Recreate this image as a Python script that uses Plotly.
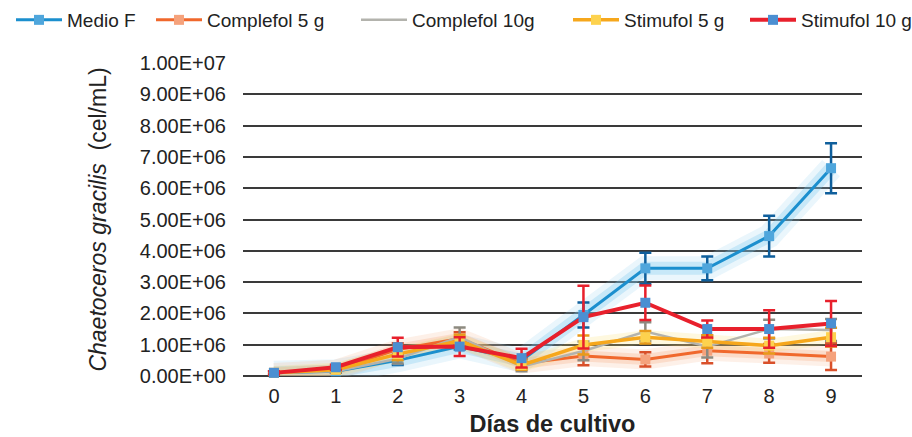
import plotly.graph_objects as go

# Culture days
dias = [0, 1, 2, 3, 4, 5, 6, 7, 8, 9]

# Mean cell density (cel/mL) per treatment
medio_f = [0.10e6, 0.15e6, 0.50e6, 0.95e6, 0.50e6, 1.95e6, 3.44e6, 3.44e6, 4.47e6, 6.64e6]
complefol_5 = [0.10e6, 0.20e6, 0.85e6, 1.20e6, 0.40e6, 0.64e6, 0.53e6, 0.81e6, 0.72e6, 0.62e6]
complefol_10 = [0.10e6, 0.15e6, 0.55e6, 1.25e6, 0.30e6, 0.80e6, 1.42e6, 0.94e6, 1.50e6, 1.47e6]
stimufol_5 = [0.10e6, 0.20e6, 0.70e6, 1.12e6, 0.35e6, 0.99e6, 1.24e6, 1.10e6, 0.97e6, 1.24e6]
stimufol_10 = [0.10e6, 0.28e6, 0.92e6, 0.94e6, 0.57e6, 1.88e6, 2.34e6, 1.50e6, 1.50e6, 1.68e6]

# Standard deviations
err_medio_f = [0.05e6, 0.05e6, 0.15e6, 0.10e6, 0.10e6, 0.40e6, 0.50e6, 0.38e6, 0.65e6, 0.80e6]
err_complefol_5 = [0.05e6, 0.05e6, 0.20e6, 0.20e6, 0.15e6, 0.30e6, 0.23e6, 0.40e6, 0.30e6, 0.43e6]
err_complefol_10 = [0.05e6, 0.05e6, 0.15e6, 0.30e6, 0.15e6, 0.30e6, 0.30e6, 0.35e6, 0.30e6, 0.35e6]
err_stimufol_5 = [0.05e6, 0.05e6, 0.20e6, 0.20e6, 0.15e6, 0.30e6, 0.20e6, 0.20e6, 0.25e6, 0.30e6]
err_stimufol_10 = [0.05e6, 0.08e6, 0.30e6, 0.30e6, 0.30e6, 1.00e6, 0.55e6, 0.27e6, 0.60e6, 0.72e6]

y_tickvals = [0, 1e6, 2e6, 3e6, 4e6, 5e6, 6e6, 7e6, 8e6, 9e6, 1e7]
y_ticktext = ["0.00E+00", "1.00E+06", "2.00E+06", "3.00E+06", "4.00E+06", "5.00E+06",
              "6.00E+06", "7.00E+06", "8.00E+06", "9.00E+06", "1.00E+07"]

FONT = "Liberation Sans, Arial, Helvetica, sans-serif"
TXT = "#222222"

series = [
    # name, values, errors, line colour, marker colour, error colour, line width, markers, halo layers
    ("Medio F", medio_f, err_medio_f, "#1b8fce", "#4fa6dc", "#0f5f9c", 3, True,
     [("rgba(150,212,242,0.20)", 24), ("rgba(120,200,240,0.30)", 13)]),
    ("Complefol 5 g", complefol_5, err_complefol_5, "#f0682c", "#f5a27c", "#d9502a", 3, True,
     [("rgba(245,160,110,0.16)", 20), ("rgba(245,150,95,0.22)", 11)]),
    ("Complefol 10g", complefol_10, err_complefol_10, "#b3b3ad", "#b3b3ad", "#8d8a80", 2.5, False, []),
    ("Stimufol 5 g", stimufol_5, err_stimufol_5, "#f6a71c", "#fdd24e", "#e89a1a", 3.5, True,
     [("rgba(250,225,110,0.22)", 14)]),
    ("Stimufol 10 g", stimufol_10, err_stimufol_10, "#e8202c", "#4b8fd2", "#e8202c", 4, True, []),
]

# left edge of each legend entry (container pixels)
legend_x = [11, 151, 356, 568, 745]

fig = go.Figure()

# soft halos beneath selected series
for name, vals, errs, lc, mc, ec, lw, mk, halos in series:
    for col, w in halos:
        fig.add_trace(go.Scatter(
            x=dias, y=vals, mode="lines", showlegend=False, hoverinfo="skip",
            line=dict(color=col, width=w), cliponaxis=False,
        ))

for i, (name, vals, errs, lc, mc, ec, lw, mk, halos) in enumerate(series):
    fig.add_trace(go.Scatter(
        x=dias, y=vals, name=name,
        mode="lines+markers" if mk else "lines",
        line=dict(color=lc, width=lw),
        marker=dict(symbol="square", size=10, color=mc, line=dict(width=0)),
        error_y=dict(type="data", array=errs, visible=True, color=ec, thickness=2.5, width=6),
        cliponaxis=False,
        legend="legend" if i == 0 else f"legend{i + 1}",
    ))

legend_common = dict(
    orientation="h", yanchor="middle", y=(437 - 20) / 437,
    xref="container", yref="container", xanchor="left",
    font=dict(size=19, family=FONT, color=TXT),
    itemwidth=46, bgcolor="rgba(0,0,0,0)",
)
legends = {}
for i, lx in enumerate(legend_x):
    key = "legend" if i == 0 else f"legend{i + 1}"
    legends[key] = dict(legend_common, x=lx / 912)

fig.update_layout(
    width=912, height=437,
    margin=dict(l=243, r=50, t=63, b=61),
    paper_bgcolor="white", plot_bgcolor="white",
    font=dict(family=FONT, color=TXT, size=18),
    showlegend=True,
    **legends,
    xaxis=dict(
        type="category", range=[-0.5, 9.5], automargin=False,
        tickmode="array", tickvals=dias, ticktext=[str(d) for d in dias],
        showgrid=False, showline=False, zeroline=False, ticks="",
        tickfont=dict(size=20, family=FONT, color=TXT),
        ticklabelstandoff=6,
        title=dict(text="<b>Días de cultivo</b>", font=dict(size=23.5, family=FONT, color=TXT), standoff=14),
    ),
    yaxis=dict(
        range=[0, 1e7], automargin=False,
        tickmode="array", tickvals=y_tickvals, ticktext=y_ticktext,
        showgrid=True, gridcolor="#3a3a3a", gridwidth=1.6,
        zeroline=True, zerolinecolor="#3a3a3a", zerolinewidth=1.6,
        showline=False, ticks="",
        tickfont=dict(size=20, family=FONT, color=TXT),
        ticklabelstandoff=16,
        title=dict(text="<i>Chaetoceros gracilis</i>  (cel/mL)", font=dict(size=23, family=FONT, color=TXT), standoff=26),
    ),
)

fig.write_html("out.html")
